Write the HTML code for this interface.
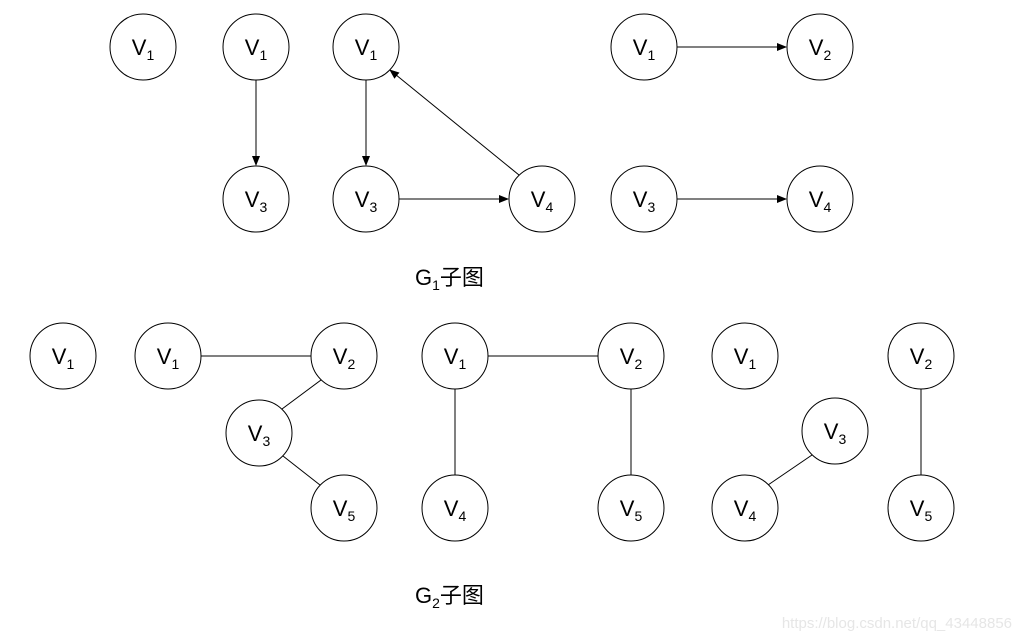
<!DOCTYPE html>
<html><head><meta charset="utf-8"><style>
html,body{margin:0;padding:0;background:#fff;}
svg{display:block;}
text{font-family:"Liberation Sans","Noto Sans CJK SC",sans-serif;fill:#000;}
</style></head><body>
<svg width="1022" height="641" viewBox="0 0 1022 641" xmlns="http://www.w3.org/2000/svg">
<defs><marker id="a" markerWidth="10" markerHeight="8" refX="9" refY="4" orient="auto" markerUnits="userSpaceOnUse"><path d="M0,0 L10,4 L0,8 z" fill="#000"/></marker></defs>
<g stroke="#000" stroke-width="1" fill="none">
<line x1="256" y1="80" x2="256" y2="165" marker-end="url(#a)"/>
<line x1="366" y1="80" x2="366" y2="165" marker-end="url(#a)"/>
<line x1="399" y1="199" x2="508" y2="199" marker-end="url(#a)"/>
<line x1="519" y1="175" x2="390" y2="70" marker-end="url(#a)"/>
<line x1="677" y1="47" x2="786" y2="47" marker-end="url(#a)"/>
<line x1="677" y1="199" x2="786" y2="199" marker-end="url(#a)"/>
<line x1="201" y1="356" x2="311" y2="356"/>
<line x1="321" y1="380" x2="282" y2="409"/>
<line x1="283" y1="456" x2="320" y2="485"/>
<line x1="488" y1="356" x2="598" y2="356"/>
<line x1="455" y1="389" x2="455" y2="475"/>
<line x1="631" y1="389" x2="631" y2="475"/>
<line x1="812" y1="455" x2="768" y2="485"/>
<line x1="921" y1="389" x2="921" y2="475"/>
</g>
<g stroke="#000" stroke-width="1" fill="#fff">
<circle cx="143" cy="47" r="33"/><circle cx="256" cy="47" r="33"/><circle cx="366" cy="47" r="33"/>
<circle cx="644" cy="47" r="33"/><circle cx="820" cy="47" r="33"/>
<circle cx="256" cy="199" r="33"/><circle cx="366" cy="199" r="33"/><circle cx="542" cy="199" r="33"/>
<circle cx="644" cy="199" r="33"/><circle cx="820" cy="199" r="33"/>
<circle cx="63" cy="356" r="33"/><circle cx="168" cy="356" r="33"/><circle cx="344" cy="356" r="33"/>
<circle cx="455" cy="356" r="33"/><circle cx="631" cy="356" r="33"/><circle cx="745" cy="356" r="33"/>
<circle cx="921" cy="356" r="33"/>
<circle cx="259" cy="433" r="33"/><circle cx="835" cy="431" r="33"/>
<circle cx="344" cy="508" r="33"/><circle cx="455" cy="508" r="33"/><circle cx="631" cy="508" r="33"/>
<circle cx="745" cy="508" r="33"/><circle cx="921" cy="508" r="33"/>
</g>
<g font-size="22" text-anchor="middle">
<text x="143" y="55">V<tspan font-size="14" dy="5">1</tspan></text>
<text x="256" y="55">V<tspan font-size="14" dy="5">1</tspan></text>
<text x="366" y="55">V<tspan font-size="14" dy="5">1</tspan></text>
<text x="644" y="55">V<tspan font-size="14" dy="5">1</tspan></text>
<text x="820" y="55">V<tspan font-size="14" dy="5">2</tspan></text>
<text x="256" y="207">V<tspan font-size="14" dy="5">3</tspan></text>
<text x="366" y="207">V<tspan font-size="14" dy="5">3</tspan></text>
<text x="542" y="207">V<tspan font-size="14" dy="5">4</tspan></text>
<text x="644" y="207">V<tspan font-size="14" dy="5">3</tspan></text>
<text x="820" y="207">V<tspan font-size="14" dy="5">4</tspan></text>
<text x="63" y="364">V<tspan font-size="14" dy="5">1</tspan></text>
<text x="168" y="364">V<tspan font-size="14" dy="5">1</tspan></text>
<text x="344" y="364">V<tspan font-size="14" dy="5">2</tspan></text>
<text x="455" y="364">V<tspan font-size="14" dy="5">1</tspan></text>
<text x="631" y="364">V<tspan font-size="14" dy="5">2</tspan></text>
<text x="745" y="364">V<tspan font-size="14" dy="5">1</tspan></text>
<text x="921" y="364">V<tspan font-size="14" dy="5">2</tspan></text>
<text x="259" y="441">V<tspan font-size="14" dy="5">3</tspan></text>
<text x="835" y="439">V<tspan font-size="14" dy="5">3</tspan></text>
<text x="344" y="516">V<tspan font-size="14" dy="5">5</tspan></text>
<text x="455" y="516">V<tspan font-size="14" dy="5">4</tspan></text>
<text x="631" y="516">V<tspan font-size="14" dy="5">5</tspan></text>
<text x="745" y="516">V<tspan font-size="14" dy="5">4</tspan></text>
<text x="921" y="516">V<tspan font-size="14" dy="5">5</tspan></text>
</g>
<text x="415" y="285" font-size="22">G<tspan font-size="14" dy="5">1</tspan><tspan dy="-5">子图</tspan></text>
<text x="415" y="603" font-size="22">G<tspan font-size="14" dy="5">2</tspan><tspan dy="-5">子图</tspan></text>
<text x="1012" y="628" font-size="15" text-anchor="end" style="fill:#e6e6e6">https://blog.csdn.net/qq_43448856</text>
</svg>
</body></html>
